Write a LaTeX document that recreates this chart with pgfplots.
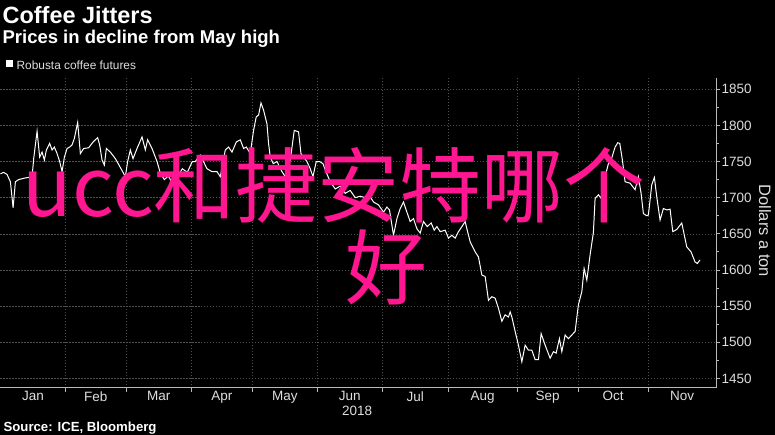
\documentclass[border=0pt]{standalone}
\usepackage{fontspec}
\setmainfont{Liberation Sans}
\newfontfamily\cjk{Noto Sans CJK SC}
\usepackage{pgfplots}
\pgfplotsset{compat=1.18}
\definecolor{gridc}{RGB}{80,80,80}
\definecolor{axc}{RGB}{185,185,185}
\definecolor{txt}{RGB}{222,222,222}
\definecolor{hotpink}{RGB}{255,22,144}
\begin{document}
\begin{tikzpicture}[x=1bp,y=1bp]
\fill[black] (0,0) rectangle (775,435);
\begin{axis}[
  at={(0,65)}, anchor=south west, scale only axis,
  width=716bp, height=310bp,
  xmin=0, xmax=716, ymin=1437.1, ymax=1865.6,
  axis x line*=bottom, axis y line*=right,
  axis line style={axc, line width=0.8bp},
  xtick={65,126,191,252,317,382,448,517,578,648},
  xticklabels={},
  extra x ticks={32.5,95.5,158.5,221.5,284.5,349.5,415,482.5,547.5,613,682},
  extra x tick labels={Jan,Feb,Mar,Apr,May,Jun,Jul,Aug,Sep,Oct,Nov},
  extra x tick style={major tick length=0pt, grid=none},
  ytick={1450,1500,...,1850},
  minor y tick num=1,
  xmajorgrids, ymajorgrids,
  major grid style={gridc, dash pattern=on 1.2bp off 1.8bp, line width=0.6bp},
  tick style={axc, line width=0.8bp},
  major tick length=4bp, minor tick length=3bp,
  tick align=outside,
  /pgf/number format/assume math mode=true,
  /pgf/number format/1000 sep={},
  yticklabel style={font=\fontsize{13.5bp}{16bp}\selectfont, color=txt, anchor=west, xshift=-2bp},
  xticklabel style={font=\fontsize{13.5bp}{16bp}\selectfont, color=txt},
]
\addplot[white, line width=1bp, mark=none] coordinates {
(0,1733) (3.3,1735) (6.7,1732) (10,1722) (12.7,1686) (15,1722) (18.3,1725) (24,1727) (31.7,1729)
(33.3,1754) (36.7,1792) (39.3,1756) (41.7,1763) (44,1752) (46,1766) (49.3,1775) (51.7,1766) (54,1770)
(56.7,1761) (59.3,1750) (61.7,1736) (64,1756) (66.7,1768) (69.3,1770) (71.7,1773) (74,1782) (77.3,1804)
(80,1761) (83.3,1768) (88.3,1769) (92.7,1777) (97.3,1783) (99.3,1773) (101.7,1752) (104,1745) (106,1768)
(110,1763) (115,1754) (120.7,1740) (125,1729) (127.3,1750) (130,1766) (132.7,1754) (136.7,1768) (141.7,1784)
(145,1766) (147.3,1780) (151.7,1768) (156.7,1750) (160,1734) (164,1725) (168,1730) (172,1720) (177,1728)
(182,1740) (187,1735) (192,1750) (195,1750) (200,1759) (206.7,1740) (211.7,1736) (216.7,1736) (220,1729)
(225,1766) (228.3,1770) (231.7,1763) (236,1777) (240,1780) (243.3,1768) (246,1770) (250,1761) (253.3,1793)
(256,1812) (258.3,1814) (260.7,1831) (263.3,1821) (266.7,1802) (268.3,1775) (270,1756) (273,1747) (276.7,1750)
(281.7,1736) (285,1729) (290,1752) (294,1793) (298.3,1791) (300.7,1761) (306.7,1750) (310,1740) (312.7,1729)
(316,1750) (319.3,1750) (322.7,1747) (326,1735) (330,1722) (335,1712) (340,1716) (345,1706) (350,1710)
(355,1700) (360,1702) (365,1700) (370,1701) (373.3,1694) (378.3,1690) (383.3,1680) (386.7,1687) (389.3,1683)
(393.3,1648) (396.7,1671) (400,1685) (403.3,1694) (406.7,1680) (410,1667) (413.3,1671) (416.7,1657) (420,1651)
(423.3,1667) (427,1660) (431,1665) (434,1655) (436.7,1660) (440,1653) (445,1655) (448.3,1644) (451.7,1648)
(455,1644) (458.3,1653) (461.7,1660) (465,1667) (466.7,1657) (470,1639) (475,1625) (478.3,1618) (481.7,1593)
(485,1591) (488.3,1558) (491.7,1563) (495,1561) (498.3,1547) (501.7,1529) (505,1538) (508.3,1535) (510,1542)
(511.7,1535) (515,1515) (518.3,1496) (521.7,1473) (525,1496) (528.3,1489) (531.7,1489) (535,1476) (538.3,1476)
(541,1512) (545,1496) (550,1478) (553.3,1487) (556,1485) (559.3,1505) (561.7,1487) (565,1510) (568.3,1505)
(575,1515) (578.3,1552) (581.7,1570) (584,1602) (586.7,1586) (590,1621) (593.3,1652) (595,1699) (598.3,1704)
(601,1699) (605,1729) (608.3,1747) (611,1752) (615,1770) (617.7,1776) (619.7,1775) (622.3,1752) (625,1722)
(630,1720) (635,1711) (638.3,1729) (641,1706) (643.3,1678) (646.7,1675) (648.3,1676) (651.7,1718) (654.3,1728)
(656.7,1701) (660,1669) (663.3,1685) (666.7,1683) (670,1684) (672.7,1653) (676.7,1656) (681.7,1665) (686.7,1632)
(691,1625) (695,1611) (697.3,1609) (700,1614)
};
\end{axis}
\node[anchor=base west, inner sep=0, white, font=\fontsize{23.5bp}{28bp}\selectfont\bfseries] at (2,411.7) {Coffee Jitters};
\node[anchor=base west, inner sep=0, white, font=\fontsize{18.5bp}{22bp}\selectfont\bfseries] at (2,391) {Prices in decline from May high};
\fill[white] (6,368) rectangle (13,375);
\node[anchor=base west, inner sep=0, txt, font=\fontsize{11.9bp}{14bp}\selectfont] at (16,365.5) {Robusta coffee futures};
\node[anchor=base west, inner sep=0, white, font=\fontsize{13.2bp}{16bp}\selectfont\bfseries] at (3,3) {Source: ICE, Bloomberg};
\node[anchor=base, inner sep=0, txt, font=\fontsize{13.5bp}{16bp}\selectfont] at (357,19) {2018};
\node[rotate=-90, inner sep=0, txt, font=\fontsize{16.5bp}{20bp}\selectfont] at (765,204) {Dollars a ton};
\node[anchor=base west, inner sep=0, hotpink, font=\cjk\fontsize{82bp}{82bp}\selectfont] at (22,218) {ucc和捷安特哪个};
\node[anchor=base, inner sep=0, hotpink, font=\cjk\fontsize{82bp}{82bp}\selectfont] at (386,136) {好};
\end{tikzpicture}
\end{document}
